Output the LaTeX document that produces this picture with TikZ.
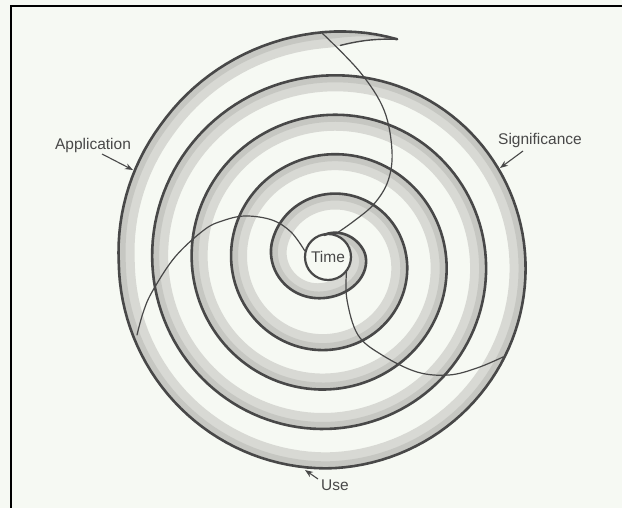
\documentclass[tikz,border=0pt]{standalone}
\usepackage{fontspec}
\setmainfont{Liberation Sans}
\usetikzlibrary{arrows.meta}
\definecolor{bg}{RGB}{246,249,243}
\definecolor{ink}{RGB}{72,72,72}
\definecolor{bandA}{RGB}{216,217,212}
\definecolor{bandB}{RGB}{198,199,194}
\begin{document}
\begin{tikzpicture}[x=1pt,y=-1pt,
  declare function={
    bmp(\a)=max(0,1-((\a-90)/110)*((\a-90)/110));
    crr(\a)=-6*max(0,1-abs(\a-1620)/90)+5*max(0,min(1,(\a-1660)/60));
    rr(\a)=38.5+(\a/360)*39.5-13*bmp(\a)*bmp(\a)+crr(\a);
    ww(\a)=16*min(1,(1727-\a)/16);
    wn(\a)=7*min(1,(1727-\a)/16);
  },
  spiralline/.style={draw=ink,line width=2.6pt,line cap=round,line join=round},
  thinline/.style={draw=ink,line width=1.2pt,line cap=round},
  lab/.style={text=ink,font=\fontsize{15.5}{18}\selectfont,inner sep=1pt},
  labarrow/.style={draw=ink,line width=1.1pt,-{Stealth[length=8pt,width=6pt]}},
  frameline/.style={draw=black,line width=2pt}
]
\useasboundingbox (0,0) rectangle (622,508);
\fill[bg] (0,0) rectangle (622,508);
\draw[frameline] (11,508) -- (11,6) -- (622,6);

% stippled ribbon
\fill[bandA] plot[domain=-100:1727,samples=700] ({329+rr(\x)*cos(\x)},{262+rr(\x)*sin(\x)})
  -- plot[domain=1727:-100,samples=700] ({329+(rr(\x)-ww(\x))*cos(\x)},{262+(rr(\x)-ww(\x))*sin(\x)}) -- cycle;
\fill[bandB] plot[domain=-100:1727,samples=700] ({329+rr(\x)*cos(\x)},{262+rr(\x)*sin(\x)})
  -- plot[domain=1727:-100,samples=700] ({329+(rr(\x)-wn(\x))*cos(\x)},{262+(rr(\x)-wn(\x))*sin(\x)}) -- cycle;

% centre
\node[circle,draw=ink,line width=2.2pt,fill=bg,minimum size=46pt,inner sep=0pt,
      text=ink,font=\fontsize{15.5}{18}\selectfont] (time) at (328,257) {Time};

% spiral edge
\draw[spiralline] plot[domain=-100:1727,samples=700] ({329+rr(\x)*cos(\x)},{262+rr(\x)*sin(\x)});
\draw[spiralline,line width=1.4pt] plot[domain=1713:1727,samples=12] ({329+(rr(\x)-ww(\x))*cos(\x)},{262+(rr(\x)-ww(\x))*sin(\x)});

% thin crossing curves
\coordinate (c1end) at (322,33);
\coordinate (c2end) at (137,335);
\coordinate (c3end) at (503,357);
\draw[thinline] plot[smooth,tension=0.6] coordinates {(c1end) (360,72) (384,110) (392,151) (388,181) (374,204) (354,221) (time.72)};
\draw[thinline] plot[smooth,tension=0.6] coordinates {(time.165) (291,232) (272,220) (245,216) (222,221) (204,230) (175,257) (152,292) (143,313) (c2end)};
\draw[thinline] plot[smooth,tension=0.6] coordinates {(time.-40) (347,300) (358,335) (382,355) (417,372) (449,375) (477,368) (c3end)};

% labels
\node[lab] (app) at (93,145) {Application};
\node[lab] (sig) at (540,140) {Significance};
\node[lab] (use) at (335,485) {Use};
\coordinate (appS) at (102,154);
\coordinate (appT) at (133,170);
\coordinate (sigS) at (523,151);
\coordinate (sigT) at (500,168);
\coordinate (useS) at (318,479);
\coordinate (useT) at (305,470);
\draw[labarrow] (appS) -- (appT);
\draw[labarrow] (sigS) -- (sigT);
\draw[labarrow] (useS) -- (useT);
\end{tikzpicture}
\end{document}
